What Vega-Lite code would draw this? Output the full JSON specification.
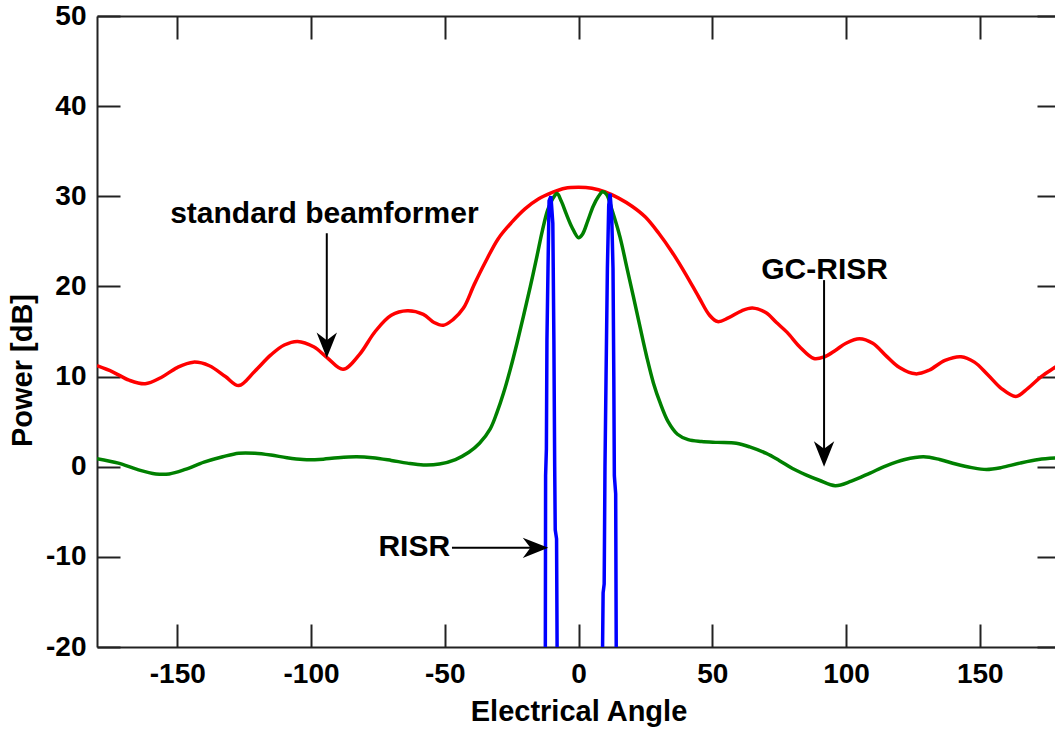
{
  "$schema": "https://vega.github.io/schema/vega-lite/v6.json",
  "width": 963,
  "height": 631,
  "autosize": {"type": "none"},
  "padding": {"left": 97, "top": 16, "right": 0, "bottom": 82},
  "background": "white",
  "config": {
    "view": {"stroke": null},
    "font": "Liberation Sans",
    "axis": {
      "grid": false,
      "domainColor": "#222222",
      "domainWidth": 2,
      "tickColor": "#222222",
      "tickWidth": 2,
      "tickSize": -23,
      "labelFont": "Liberation Sans",
      "labelFontWeight": "bold",
      "labelFontSize": 28,
      "labelColor": "black",
      "labelExpr": "'' + datum.value",
      "titleFont": "Liberation Sans",
      "titleFontWeight": "bold",
      "titleFontSize": 29,
      "titleColor": "black"
    }
  },
  "datasets": {
    "curves": [
      {"angle": -180, "power": 11.2, "curve": "standard"},
      {"angle": -174, "power": 10.5, "curve": "standard"},
      {"angle": -168, "power": 9.6, "curve": "standard"},
      {"angle": -162, "power": 9.2, "curve": "standard"},
      {"angle": -156, "power": 9.9, "curve": "standard"},
      {"angle": -150, "power": 11.0, "curve": "standard"},
      {"angle": -144, "power": 11.6, "curve": "standard"},
      {"angle": -138, "power": 11.2, "curve": "standard"},
      {"angle": -132, "power": 10.0, "curve": "standard"},
      {"angle": -127, "power": 9.0, "curve": "standard"},
      {"angle": -121, "power": 10.6, "curve": "standard"},
      {"angle": -115, "power": 12.4, "curve": "standard"},
      {"angle": -110, "power": 13.5, "curve": "standard"},
      {"angle": -105, "power": 13.9, "curve": "standard"},
      {"angle": -99, "power": 13.3, "curve": "standard"},
      {"angle": -94, "power": 12.1, "curve": "standard"},
      {"angle": -88, "power": 10.8, "curve": "standard"},
      {"angle": -82, "power": 12.4, "curve": "standard"},
      {"angle": -76, "power": 15.0, "curve": "standard"},
      {"angle": -70, "power": 16.8, "curve": "standard"},
      {"angle": -64, "power": 17.3, "curve": "standard"},
      {"angle": -58, "power": 16.9, "curve": "standard"},
      {"angle": -54, "power": 16.0, "curve": "standard"},
      {"angle": -50.5, "power": 15.7, "curve": "standard"},
      {"angle": -47, "power": 16.3, "curve": "standard"},
      {"angle": -43, "power": 17.6, "curve": "standard"},
      {"angle": -39, "power": 20.2, "curve": "standard"},
      {"angle": -35, "power": 22.6, "curve": "standard"},
      {"angle": -30, "power": 25.3, "curve": "standard"},
      {"angle": -25, "power": 27.1, "curve": "standard"},
      {"angle": -20, "power": 28.6, "curve": "standard"},
      {"angle": -15, "power": 29.7, "curve": "standard"},
      {"angle": -10, "power": 30.4, "curve": "standard"},
      {"angle": -5, "power": 30.9, "curve": "standard"},
      {"angle": 0, "power": 31.0, "curve": "standard"},
      {"angle": 5, "power": 30.9, "curve": "standard"},
      {"angle": 10, "power": 30.5, "curve": "standard"},
      {"angle": 15, "power": 29.8, "curve": "standard"},
      {"angle": 20, "power": 28.9, "curve": "standard"},
      {"angle": 25, "power": 27.7, "curve": "standard"},
      {"angle": 30, "power": 25.9, "curve": "standard"},
      {"angle": 35, "power": 23.8, "curve": "standard"},
      {"angle": 40, "power": 21.4, "curve": "standard"},
      {"angle": 45, "power": 18.8, "curve": "standard"},
      {"angle": 49, "power": 16.8, "curve": "standard"},
      {"angle": 52, "power": 16.1, "curve": "standard"},
      {"angle": 56, "power": 16.5, "curve": "standard"},
      {"angle": 61, "power": 17.3, "curve": "standard"},
      {"angle": 65, "power": 17.6, "curve": "standard"},
      {"angle": 70, "power": 17.1, "curve": "standard"},
      {"angle": 74, "power": 16.0, "curve": "standard"},
      {"angle": 78, "power": 14.9, "curve": "standard"},
      {"angle": 83, "power": 13.2, "curve": "standard"},
      {"angle": 88, "power": 12.0, "curve": "standard"},
      {"angle": 92, "power": 12.2, "curve": "standard"},
      {"angle": 96, "power": 12.9, "curve": "standard"},
      {"angle": 100, "power": 13.7, "curve": "standard"},
      {"angle": 105, "power": 14.2, "curve": "standard"},
      {"angle": 110, "power": 13.7, "curve": "standard"},
      {"angle": 115, "power": 12.3, "curve": "standard"},
      {"angle": 120, "power": 11.0, "curve": "standard"},
      {"angle": 126, "power": 10.3, "curve": "standard"},
      {"angle": 131, "power": 10.7, "curve": "standard"},
      {"angle": 137, "power": 11.8, "curve": "standard"},
      {"angle": 143, "power": 12.2, "curve": "standard"},
      {"angle": 148, "power": 11.6, "curve": "standard"},
      {"angle": 153, "power": 10.2, "curve": "standard"},
      {"angle": 158, "power": 8.7, "curve": "standard"},
      {"angle": 163.5, "power": 7.8, "curve": "standard"},
      {"angle": 168, "power": 8.7, "curve": "standard"},
      {"angle": 173, "power": 10.0, "curve": "standard"},
      {"angle": 178, "power": 11.0, "curve": "standard"},
      {"angle": 180, "power": 11.4, "curve": "standard"},

      {"angle": -180, "power": 0.9, "curve": "gcrisr"},
      {"angle": -172, "power": 0.4, "curve": "gcrisr"},
      {"angle": -165, "power": -0.3, "curve": "gcrisr"},
      {"angle": -158, "power": -0.8, "curve": "gcrisr"},
      {"angle": -153, "power": -0.8, "curve": "gcrisr"},
      {"angle": -147, "power": -0.3, "curve": "gcrisr"},
      {"angle": -140, "power": 0.5, "curve": "gcrisr"},
      {"angle": -133, "power": 1.1, "curve": "gcrisr"},
      {"angle": -127, "power": 1.5, "curve": "gcrisr"},
      {"angle": -121, "power": 1.5, "curve": "gcrisr"},
      {"angle": -115, "power": 1.3, "curve": "gcrisr"},
      {"angle": -109, "power": 1.0, "curve": "gcrisr"},
      {"angle": -103, "power": 0.8, "curve": "gcrisr"},
      {"angle": -97, "power": 0.8, "curve": "gcrisr"},
      {"angle": -90, "power": 1.0, "curve": "gcrisr"},
      {"angle": -83, "power": 1.1, "curve": "gcrisr"},
      {"angle": -77, "power": 1.0, "curve": "gcrisr"},
      {"angle": -70, "power": 0.7, "curve": "gcrisr"},
      {"angle": -64, "power": 0.4, "curve": "gcrisr"},
      {"angle": -58, "power": 0.2, "curve": "gcrisr"},
      {"angle": -52, "power": 0.3, "curve": "gcrisr"},
      {"angle": -46, "power": 0.8, "curve": "gcrisr"},
      {"angle": -41, "power": 1.6, "curve": "gcrisr"},
      {"angle": -37, "power": 2.6, "curve": "gcrisr"},
      {"angle": -33, "power": 4.2, "curve": "gcrisr"},
      {"angle": -30.5, "power": 6.0, "curve": "gcrisr"},
      {"angle": -28, "power": 8.2, "curve": "gcrisr"},
      {"angle": -25.5, "power": 10.8, "curve": "gcrisr"},
      {"angle": -23, "power": 13.7, "curve": "gcrisr"},
      {"angle": -20.5, "power": 16.8, "curve": "gcrisr"},
      {"angle": -18, "power": 20.0, "curve": "gcrisr"},
      {"angle": -15.5, "power": 23.4, "curve": "gcrisr"},
      {"angle": -13.5, "power": 26.2, "curve": "gcrisr"},
      {"angle": -11.5, "power": 28.5, "curve": "gcrisr"},
      {"angle": -9.5, "power": 29.8, "curve": "gcrisr"},
      {"angle": -8, "power": 30.3, "curve": "gcrisr"},
      {"angle": -6.5, "power": 29.5, "curve": "gcrisr"},
      {"angle": -4.5, "power": 28.0, "curve": "gcrisr"},
      {"angle": -2.5, "power": 26.6, "curve": "gcrisr"},
      {"angle": 0, "power": 25.4, "curve": "gcrisr"},
      {"angle": 1.5, "power": 25.8, "curve": "gcrisr"},
      {"angle": 3.5, "power": 27.3, "curve": "gcrisr"},
      {"angle": 5.5, "power": 28.9, "curve": "gcrisr"},
      {"angle": 7.5, "power": 30.0, "curve": "gcrisr"},
      {"angle": 9, "power": 30.5, "curve": "gcrisr"},
      {"angle": 10.5, "power": 30.2, "curve": "gcrisr"},
      {"angle": 12.5, "power": 28.5, "curve": "gcrisr"},
      {"angle": 15.5, "power": 25.5, "curve": "gcrisr"},
      {"angle": 18, "power": 22.2, "curve": "gcrisr"},
      {"angle": 20.5, "power": 18.9, "curve": "gcrisr"},
      {"angle": 23, "power": 15.5, "curve": "gcrisr"},
      {"angle": 25.5, "power": 12.2, "curve": "gcrisr"},
      {"angle": 28, "power": 9.3, "curve": "gcrisr"},
      {"angle": 30.5, "power": 7.1, "curve": "gcrisr"},
      {"angle": 33.5, "power": 5.0, "curve": "gcrisr"},
      {"angle": 37, "power": 3.6, "curve": "gcrisr"},
      {"angle": 41, "power": 3.0, "curve": "gcrisr"},
      {"angle": 46, "power": 2.8, "curve": "gcrisr"},
      {"angle": 52, "power": 2.7, "curve": "gcrisr"},
      {"angle": 59, "power": 2.6, "curve": "gcrisr"},
      {"angle": 64, "power": 2.2, "curve": "gcrisr"},
      {"angle": 70, "power": 1.5, "curve": "gcrisr"},
      {"angle": 75, "power": 0.7, "curve": "gcrisr"},
      {"angle": 80, "power": -0.2, "curve": "gcrisr"},
      {"angle": 85, "power": -0.9, "curve": "gcrisr"},
      {"angle": 90, "power": -1.5, "curve": "gcrisr"},
      {"angle": 96, "power": -2.1, "curve": "gcrisr"},
      {"angle": 102, "power": -1.6, "curve": "gcrisr"},
      {"angle": 109, "power": -0.7, "curve": "gcrisr"},
      {"angle": 115, "power": 0.1, "curve": "gcrisr"},
      {"angle": 122, "power": 0.8, "curve": "gcrisr"},
      {"angle": 129, "power": 1.1, "curve": "gcrisr"},
      {"angle": 135, "power": 0.8, "curve": "gcrisr"},
      {"angle": 141, "power": 0.3, "curve": "gcrisr"},
      {"angle": 147, "power": -0.1, "curve": "gcrisr"},
      {"angle": 152.5, "power": -0.3, "curve": "gcrisr"},
      {"angle": 158, "power": -0.1, "curve": "gcrisr"},
      {"angle": 165, "power": 0.4, "curve": "gcrisr"},
      {"angle": 172, "power": 0.8, "curve": "gcrisr"},
      {"angle": 180, "power": 1.0, "curve": "gcrisr"}
    ],
    "risr": [
      {"angle": -12.4, "power": -20, "seg": "L"},
      {"angle": -12.3, "power": -1, "seg": "L"},
      {"angle": -12.0, "power": 2, "seg": "L"},
      {"angle": -11.8, "power": 14, "seg": "L"},
      {"angle": -11.4, "power": 22, "seg": "L"},
      {"angle": -11.0, "power": 29.5, "seg": "L"},
      {"angle": -10.3, "power": 30.0, "seg": "L"},
      {"angle": -9.6, "power": 27, "seg": "L"},
      {"angle": -9.2, "power": 14, "seg": "L"},
      {"angle": -8.9, "power": 0, "seg": "L"},
      {"angle": -8.7, "power": -7, "seg": "L"},
      {"angle": -8.2, "power": -8, "seg": "L"},
      {"angle": -8.0, "power": -20, "seg": "L"},
      {"angle": 9.0, "power": -20, "seg": "R"},
      {"angle": 9.2, "power": -14, "seg": "R"},
      {"angle": 9.6, "power": -13, "seg": "R"},
      {"angle": 9.9, "power": 0, "seg": "R"},
      {"angle": 10.3, "power": 10, "seg": "R"},
      {"angle": 10.8, "power": 22, "seg": "R"},
      {"angle": 11.3, "power": 29, "seg": "R"},
      {"angle": 11.8, "power": 30.3, "seg": "R"},
      {"angle": 12.4, "power": 28, "seg": "R"},
      {"angle": 12.9, "power": 22, "seg": "R"},
      {"angle": 13.2, "power": 10, "seg": "R"},
      {"angle": 13.4, "power": -1, "seg": "R"},
      {"angle": 13.9, "power": -3, "seg": "R"},
      {"angle": 14.1, "power": -20, "seg": "R"}
    ],
    "labels": [
      {"angle": -95.0, "power": 28.0, "label": "standard beamformer"},
      {"angle": 92, "power": 21.8, "label": "GC-RISR"},
      {"angle": -61.4, "power": -8.9, "label": "RISR"}
    ],
    "vrules": [
      {"angle": -94.1, "from": 25.9, "to": 13.0},
      {"angle": 91.8, "from": 20.7, "to": 1.0}
    ],
    "hrules": [
      {"from": -47.3, "to": -13.0, "power": -9.0}
    ],
    "heads": [
      {"angle": -94.1, "power": 12.05, "dir": "down"},
      {"angle": 91.8, "power": 0.0, "dir": "down"},
      {"angle": -11.3, "power": -9.0, "dir": "right"}
    ]
  },
  "layer": [
    {
      "data": {"name": "curves"},
      "mark": {"type": "line", "interpolate": "catmull-rom", "strokeWidth": 3.5, "clip": true},
      "encoding": {
        "x": {
          "field": "angle", "type": "quantitative",
          "scale": {"domain": [-180, 180], "nice": false, "zero": false},
          "axis": {"orient": "bottom", "values": [-150, -100, -50, 0, 50, 100, 150], "title": "Electrical Angle", "labelPadding": 36, "titleY": 73, "titleBaseline": "alphabetic"}
        },
        "y": {
          "field": "power", "type": "quantitative",
          "scale": {"domain": [-20, 50], "nice": false, "zero": false},
          "axis": {"orient": "left", "values": [-20, -10, 0, 10, 20, 30, 40, 50], "title": "Power [dB]", "labelPadding": 34, "titleX": -75, "titleY": 354, "titleAlign": "center", "titleBaseline": "middle", "titleAngle": -90}
        },
        "color": {
          "field": "curve", "type": "nominal",
          "scale": {"domain": ["standard", "gcrisr"], "range": ["#ff0000", "#008000"]},
          "legend": null
        }
      }
    },
    {
      "data": {"name": "risr"},
      "mark": {"type": "line", "interpolate": "linear", "strokeWidth": 3.5, "color": "#0000ff", "clip": true},
      "encoding": {
        "x": {"field": "angle", "type": "quantitative", "axis": {"orient": "top", "values": [-150, -100, -50, 0, 50, 100, 150], "labels": false, "title": null}},
        "y": {"field": "power", "type": "quantitative", "axis": {"orient": "right", "values": [-20, -10, 0, 10, 20, 30, 40, 50], "labels": false, "title": null}},
        "detail": {"field": "seg", "type": "nominal"}
      }
    },
    {
      "data": {"name": "vrules"},
      "mark": {"type": "rule", "color": "black", "strokeWidth": 2},
      "encoding": {
        "x": {"field": "angle", "type": "quantitative", "axis": null},
        "y": {"field": "from", "type": "quantitative", "axis": null},
        "y2": {"field": "to"}
      }
    },
    {
      "data": {"name": "hrules"},
      "mark": {"type": "rule", "color": "black", "strokeWidth": 2},
      "encoding": {
        "x": {"field": "from", "type": "quantitative", "axis": null},
        "x2": {"field": "to"},
        "y": {"field": "power", "type": "quantitative", "axis": null}
      }
    },
    {
      "data": {"name": "heads"},
      "mark": {"type": "point", "filled": true, "color": "black", "opacity": 1, "size": 650, "strokeWidth": 0},
      "encoding": {
        "x": {"field": "angle", "type": "quantitative", "axis": null},
        "y": {"field": "power", "type": "quantitative", "axis": null},
        "shape": {
          "field": "dir", "type": "nominal",
          "scale": {"domain": ["down", "right"], "range": ["M0,0 L-0.8,-2 L0,-1.4 L0.8,-2 Z", "M0,0 L-2,-0.8 L-1.4,0 L-2,0.8 Z"]},
          "legend": null
        }
      }
    },
    {
      "data": {"name": "labels"},
      "mark": {"type": "text", "font": "Liberation Sans", "fontWeight": "bold", "fontSize": 30, "color": "black", "align": "center", "baseline": "middle"},
      "encoding": {
        "x": {"field": "angle", "type": "quantitative", "axis": null},
        "y": {"field": "power", "type": "quantitative", "axis": null},
        "text": {"field": "label", "type": "nominal"}
      }
    }
  ]
}
